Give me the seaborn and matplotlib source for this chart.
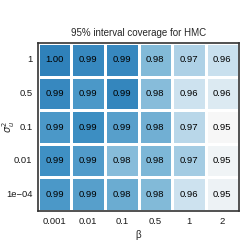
import numpy as np
import pandas as pd
import matplotlib
matplotlib.use("Agg")
import matplotlib.pyplot as plt
import seaborn as sns
from matplotlib.colors import LinearSegmentedColormap

# Daten
betas = ["0.001", "0.01", "0.1", "0.5", "1", "2"]
sigmas = ["1", "0.5", "0.1", "0.01", "1e\u221204"]
row_1 = [0.996, 0.993, 0.993, 0.979, 0.970, 0.963]
row_05 = [0.993, 0.988, 0.994, 0.978, 0.962, 0.958]
row_01 = [0.988, 0.991, 0.986, 0.982, 0.967, 0.950]
row_001 = [0.990, 0.987, 0.978, 0.980, 0.972, 0.952]
row_1e4 = [0.988, 0.986, 0.983, 0.979, 0.962, 0.953]

df = pd.DataFrame([row_1, row_05, row_01, row_001, row_1e4], index=sigmas, columns=betas)

# Farbskala weiss -> blau
cmap = LinearSegmentedColormap.from_list(
    "cov", [(0.0, "#f7f7f7"), (0.2, "#d4e6f1"), (0.4, "#aed1e6"),
            (0.6, "#7db7d7"), (0.8, "#3f90c4"), (1.0, "#2477b3")])

sns.set_style("white")
plt.rcParams['font.family'] = ['Liberation Sans', 'DejaVu Sans']

fig = plt.figure(figsize=(2.43, 2.42), dpi=100)
ax = fig.add_axes([0.156, 0.128, 0.828, 0.694])
sns.heatmap(df, ax=ax, cmap=cmap, vmin=0.95, vmax=1.0,
            annot=True, fmt=".2f", annot_kws={"size": 6.8, "color": "black"},
            linewidths=0.8, linecolor="white", cbar=False)
for s in ax.spines.values():
    s.set_visible(True)
    s.set_color("#333333")
    s.set_linewidth(1.2)
ax.tick_params(axis="both", length=2, width=0.6, color="#333333", labelsize=6.8,
               labelcolor="#1a1a1a", pad=2)
plt.setp(ax.get_yticklabels(), rotation=0)
ax.set_title("95% interval coverage for HMC", fontsize=7, pad=5)
ax.set_xlabel("\u03b2", fontsize=7, labelpad=3)
ax.set_ylabel(r"$\sigma_u^2$", fontsize=7)
ax.yaxis.set_label_coords(-0.105, 0.5)
fig.savefig("out.png", dpi=100)
